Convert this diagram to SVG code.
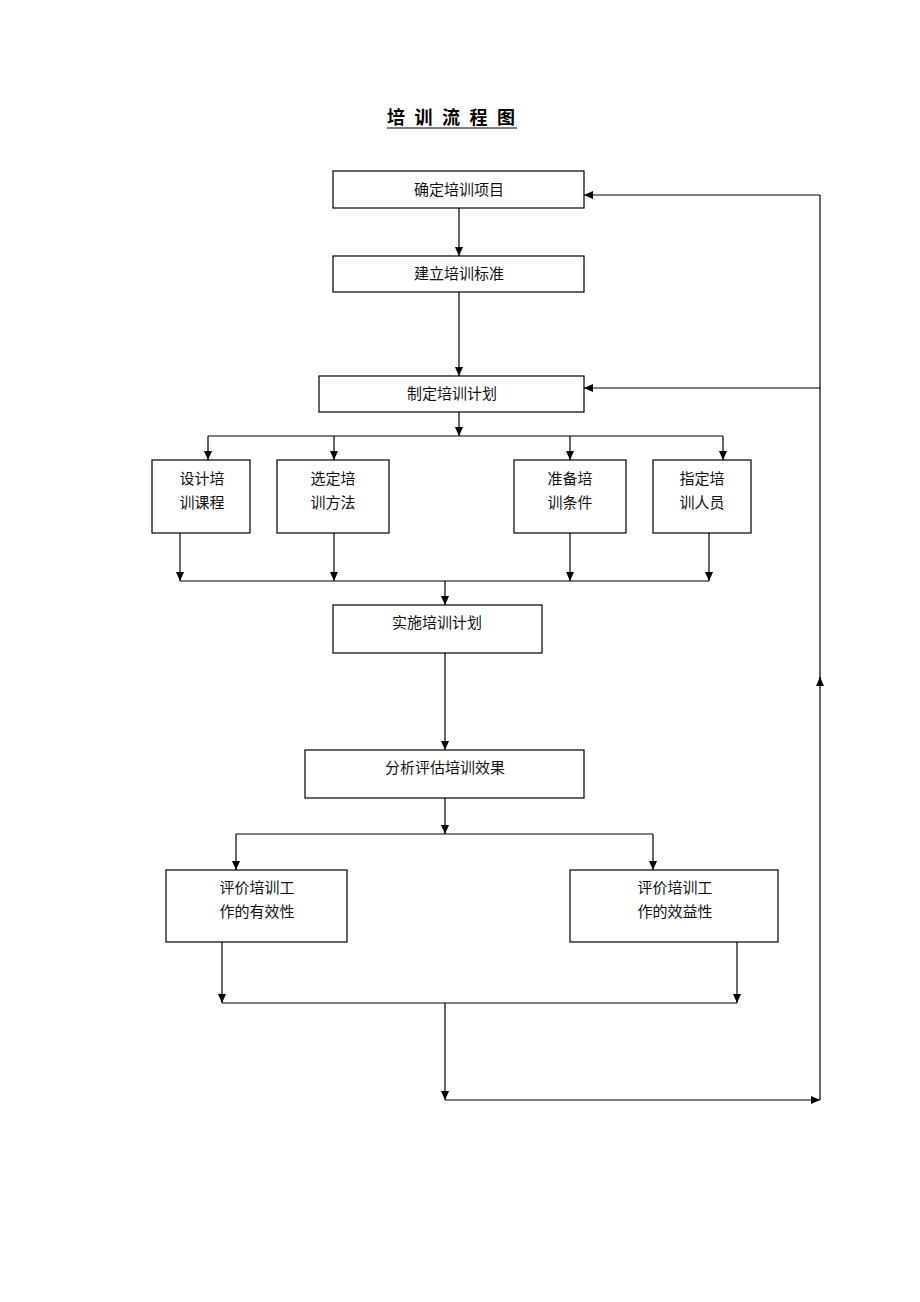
<svg xmlns="http://www.w3.org/2000/svg" width="920" height="1302" viewBox="0 0 920 1302">
<style>
.box{fill:#fff;stroke:#000;stroke-width:1.2}
.t{font-family:"Liberation Serif","Noto Sans CJK SC",serif;font-size:15px;fill:#111;text-anchor:middle}
.c{fill:none;stroke:#000;stroke-width:1.2}
.title{font-family:"Liberation Serif","Noto Sans CJK SC",serif;font-size:18px;font-weight:bold;fill:#000}
</style>
<defs>
<marker id="ah" markerWidth="10" markerHeight="8" refX="9" refY="4" orient="auto" markerUnits="userSpaceOnUse">
<path d="M0,0 L9,4 L0,8 Z" fill="#000"/>
</marker>
</defs>
<rect width="920" height="1302" fill="#fff"/>
<g id="title">
<text class="title" x="387" y="124" letter-spacing="9.5">培训流程图</text>
<line x1="387" y1="128" x2="517" y2="128" stroke="#000" stroke-width="1.2"/>
</g>
<g id="n1"><rect class="box" x="333" y="171" width="251" height="37"/><text class="t" x="459" y="195">确定培训项目</text></g>
<g id="n2"><rect class="box" x="333" y="256" width="251" height="36"/><text class="t" x="459" y="279">建立培训标准</text></g>
<g id="n3"><rect class="box" x="319" y="376" width="265" height="36"/><text class="t" x="452" y="399">制定培训计划</text></g>
<g id="n4"><rect class="box" x="152" y="460" width="98" height="73"/><text class="t" x="202" y="484">设计培</text><text class="t" x="202" y="508">训课程</text></g>
<g id="n5"><rect class="box" x="277" y="460" width="112" height="73"/><text class="t" x="333" y="484">选定培</text><text class="t" x="333" y="508">训方法</text></g>
<g id="n6"><rect class="box" x="514" y="460" width="112" height="73"/><text class="t" x="570" y="484">准备培</text><text class="t" x="570" y="508">训条件</text></g>
<g id="n7"><rect class="box" x="653" y="460" width="98" height="73"/><text class="t" x="702" y="484">指定培</text><text class="t" x="702" y="508">训人员</text></g>
<g id="n8"><rect class="box" x="333" y="605" width="209" height="48"/><text class="t" x="437" y="628">实施培训计划</text></g>
<g id="n9"><rect class="box" x="305" y="750" width="279" height="48"/><text class="t" x="445" y="773">分析评估培训效果</text></g>
<g id="n10"><rect class="box" x="166" y="870" width="181" height="72"/><text class="t" x="257" y="893">评价培训工</text><text class="t" x="257" y="917">作的有效性</text></g>
<g id="n11"><rect class="box" x="570" y="870" width="208" height="72"/><text class="t" x="675" y="893">评价培训工</text><text class="t" x="675" y="917">作的效益性</text></g>
<g id="connectors">
<line class="c" x1="459" y1="208" x2="459" y2="256" marker-end="url(#ah)"/>
<line class="c" x1="459" y1="292" x2="459" y2="376" marker-end="url(#ah)"/>
<line class="c" x1="459" y1="412" x2="459" y2="436" marker-end="url(#ah)"/>
<line class="c" x1="208" y1="436" x2="723" y2="436"/>
<line class="c" x1="208" y1="436" x2="208" y2="460" marker-end="url(#ah)"/>
<line class="c" x1="334" y1="436" x2="334" y2="460" marker-end="url(#ah)"/>
<line class="c" x1="570" y1="436" x2="570" y2="460" marker-end="url(#ah)"/>
<line class="c" x1="723" y1="436" x2="723" y2="460" marker-end="url(#ah)"/>
<line class="c" x1="180" y1="533" x2="180" y2="581" marker-end="url(#ah)"/>
<line class="c" x1="334" y1="533" x2="334" y2="581" marker-end="url(#ah)"/>
<line class="c" x1="570" y1="533" x2="570" y2="581" marker-end="url(#ah)"/>
<line class="c" x1="709" y1="533" x2="709" y2="581" marker-end="url(#ah)"/>
<line class="c" x1="180" y1="581" x2="709" y2="581"/>
<line class="c" x1="445" y1="581" x2="445" y2="605" marker-end="url(#ah)"/>
<line class="c" x1="445" y1="653" x2="445" y2="750" marker-end="url(#ah)"/>
<line class="c" x1="445" y1="798" x2="445" y2="834" marker-end="url(#ah)"/>
<line class="c" x1="236" y1="834" x2="653" y2="834"/>
<line class="c" x1="236" y1="834" x2="236" y2="870" marker-end="url(#ah)"/>
<line class="c" x1="653" y1="834" x2="653" y2="870" marker-end="url(#ah)"/>
<line class="c" x1="222" y1="942" x2="222" y2="1003" marker-end="url(#ah)"/>
<line class="c" x1="737" y1="942" x2="737" y2="1003" marker-end="url(#ah)"/>
<line class="c" x1="222" y1="1003" x2="737" y2="1003"/>
<line class="c" x1="445" y1="1003" x2="445" y2="1100" marker-end="url(#ah)"/>
<line class="c" x1="445" y1="1100" x2="820" y2="1100" marker-end="url(#ah)"/>
<line class="c" x1="820" y1="1100" x2="820" y2="677" marker-end="url(#ah)"/>
<line class="c" x1="820" y1="682" x2="820" y2="195"/>
<line class="c" x1="820" y1="195" x2="584" y2="195" marker-end="url(#ah)"/>
<line class="c" x1="820" y1="388" x2="584" y2="388" marker-end="url(#ah)"/>
</g>
</svg>
